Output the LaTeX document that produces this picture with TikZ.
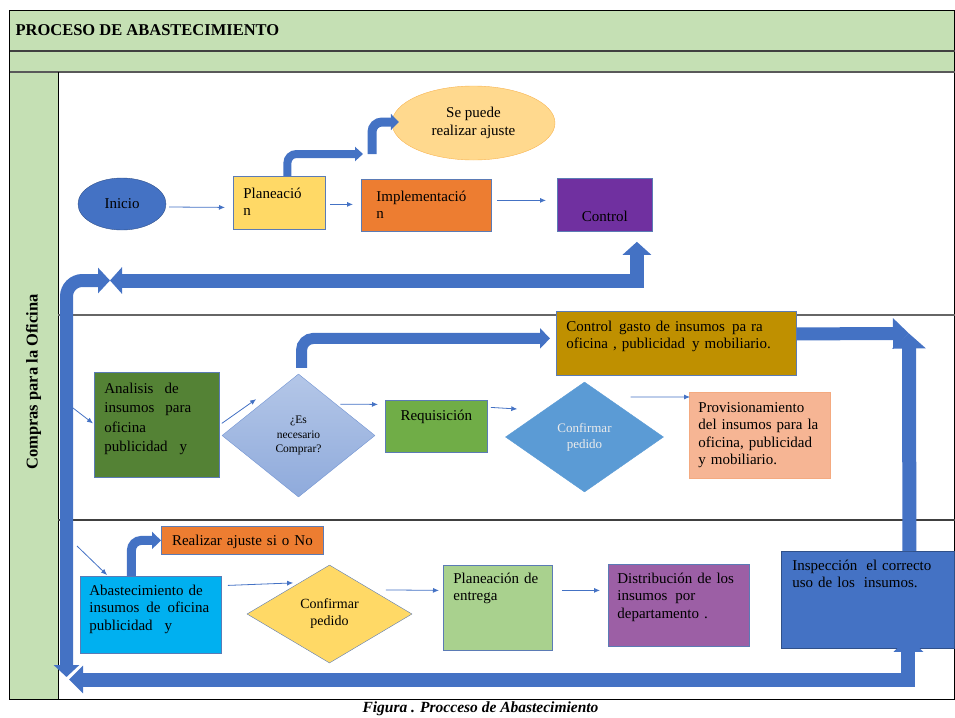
\documentclass[tikz,border=0pt]{standalone}
\usepackage{fontspec}
\setmainfont{Liberation Serif}
\usepackage{xcolor}
\definecolor{band}{HTML}{C5E0B4}
\definecolor{flowblue}{HTML}{4472C4}
\definecolor{boxline}{HTML}{5B7BB5}
\definecolor{yellow}{HTML}{FFD966}
\definecolor{orange}{HTML}{ED7D31}
\definecolor{purple}{HTML}{7030A0}
\definecolor{olive}{HTML}{548235}
\definecolor{green}{HTML}{70AD47}
\definecolor{lightgreen}{HTML}{A9D18E}
\definecolor{gold}{HTML}{BF9000}
\definecolor{sky}{HTML}{5B9BD5}
\definecolor{cyan}{HTML}{00B0F0}
\definecolor{salmon}{HTML}{F6B594}
\definecolor{mauve}{HTML}{9C5FA5}
\definecolor{cream}{HTML}{FFD98E}
\tikzstyle{box} = [draw=boxline, rectangle, anchor=north west, align=left, inner ysep=0pt, inner xsep=10pt, line width=0.8pt]
\tikzstyle{flow} = [draw=flowblue, line width=0.8pt, -{Latex[length=6pt,width=5pt]}]
\tikzstyle{bigflow} = [draw=flowblue, line cap=butt]
\usetikzlibrary{shapes.geometric, arrows.meta}

\begin{document}
\begin{tikzpicture}[x=1pt, y=-1pt, font=\fontsize{15}{17.5}\selectfont]
	\useasboundingbox (0,0) rectangle (955,717);
	%frame
	\fill[band] (9.5,10) rectangle (954.5,72);
	\fill[band] (9.5,72) rectangle (58,699);
	\draw[line width=0.9pt] (9.5,10) rectangle (954.5,699);
	\draw[line width=1.2pt, black!75] (9.5,51) -- (954.5,51);
	\draw[line width=1.2pt, black!65] (9.5,72) -- (954.5,72);
	\draw[line width=0.9pt] (58,72) -- (58,699);
	\draw[line width=1.2pt, black!60] (58,315) -- (954.5,315);
	\draw[line width=1.2pt, black!75] (58,520) -- (954.5,520);
	\node[anchor=base west, font=\fontsize{16.5}{20}\selectfont\bfseries] (title) at (12,36) {PROCESO DE ABASTECIMIENTO};
	\node[rotate=90, font=\fontsize{16.5}{20}\selectfont\bfseries] (lane) at (33.5,382) {Compras para la Oficina};
	\node[anchor=base, font=\fontsize{15.5}{18}\selectfont\bfseries\itshape] (caption) at (480.5,712.5) {Figura . Procceso de Abastecimiento};

	%diagram
	\node[ellipse, draw=flowblue!70!black, fill=flowblue, minimum width=88pt, minimum height=52pt, inner sep=0pt] (inicio) at (122,204) {Inicio};
	\node[box, fill=yellow, text width=72pt, text height=22pt, text depth=31pt] (plan) at (233,176) {Planeació\\n};
	\node[box, fill=orange, inner xsep=15pt, text width=100pt, text height=22pt, text depth=30pt] (impl) at (361,179) {Implementació\\n};
	\node[box, fill=purple, align=center, inner xsep=5pt, text width=85pt, text height=43pt, text depth=10pt] (control) at (557,178) {Control};
	\node[ellipse, draw=orange!40!yellow, fill=cream, align=center, minimum width=163pt, minimum height=74pt, inner sep=0pt] (sepuede) at (473.5,123) {Se puede\\realizar ajuste};

	\node[box, fill=olive, text width=105pt, text height=21pt, text depth=84pt, font=\fontsize{15}{19.5}\selectfont] (analisis) at (94,372) {Analisis\hspace{11pt}de\\insumos\hspace{11pt}para\\oficina\\publicidad\hspace{12pt}y};
	\node[diamond, draw=flowblue!75, top color=flowblue!40, bottom color=flowblue!60, align=center, minimum width=153pt, minimum height=123pt, inner sep=0pt, font=\fontsize{11.5}{14.5}\selectfont] (nec) at (298.5,435.5) {¿Es\\necesario\\Comprar?};
	\node[box, fill=green, align=center, inner xsep=5pt, text width=92pt, text height=20pt, text depth=32pt] (req) at (385,400) {Requisición};
	\node[diamond, draw=sky, fill=sky, text=white!92!black, align=center, minimum width=158pt, minimum height=110pt, inner sep=0pt, font=\fontsize{13}{16}\selectfont] (confb) at (584.5,437) {Confirmar\\pedido};
	\node[box, draw=salmon!80!orange, fill=salmon, inner xsep=9pt, text width=123pt, text height=20pt, text depth=66pt] (provis) at (689,392) {Provisionamiento\\del insumos para la\\oficina, publicidad\\y mobiliario.};
	\node[box, fill=gold, text width=220pt, text height=20pt, text depth=44pt] (ctrlg) at (556,311) {Control\hspace{2pt} gasto de insumos\hspace{2pt} pa ra\\oficina , publicidad\hspace{2pt} y mobiliario.};

	\node[box, fill=orange, align=center, inner xsep=3pt, text width=156pt, text height=19pt, text depth=9pt] (realizar) at (161,526) {Realizar ajuste si o No};
	\node[box, fill=cyan, inner xsep=9pt, text width=123pt, text height=19pt, text depth=58pt] (abast) at (80,576) {Abastecimiento de\\insumos\hspace{2pt} de\hspace{2pt} oficina\\publicidad\hspace{12pt}y};
	\node[diamond, draw=boxline, fill=yellow, align=center, minimum width=165pt, minimum height=98pt, inner sep=0pt, font=\fontsize{14}{17}\selectfont] (confy) at (329.5,614) {Confirmar\\pedido};
	\node[box, fill=lightgreen, text width=89pt, text height=18pt, text depth=67pt] (plan2) at (443,565) {Planeación de\\entrega};
	\node[box, fill=mauve, inner xsep=9pt, text width=123pt, text height=19pt, text depth=63pt] (distrib) at (608,564) {Distribución de los\\insumos\hspace{3pt} por\\departamento .};
	\node[box, draw=flowblue!70!black, fill=flowblue, inner xsep=11pt, text width=151pt, text height=19pt, text depth=78pt] (inspec) at (781,551) {Inspección\hspace{4pt} el correcto\\uso de los\hspace{4pt} insumos.};

	%points
	\coordinate (loopTL) at (110,280.5);
	\coordinate (loopLB) at (66.5,677);
	\coordinate (loopBL) at (69,679.5);
	\coordinate (loopR) at (909,333.5);
	\coordinate (bendA) at (363,154);
	\coordinate (bendB) at (372,154);
	\coordinate (inA) at (73,408);
	\coordinate (inB) at (77,546);

	%thin arrows
	\draw[flow] ([shift={(3,3)}]inicio.east) -- ([shift={(-8,4.5)}]plan.west);
	\draw[flow] ([shift={(4,1.5)}]plan.east) -- ([shift={(-8,-1)}]impl.west);
	\draw[flow] ([shift={(5,-5)}]impl.east) -- ([shift={(-11,-4.5)}]control.west);
	\draw[flow] (inA) -- ([shift={(-1,-1.5)}]analisis.west);
	\draw[flow] ([shift={(2,-1.5)}]analisis.east) -- ([shift={(-4,-5.5)}]nec.north west);
	\draw[flow] ([shift={(3.5,-0.5)}]nec.north east) -- ([shift={(-7,-22)}]req.west);
	\draw[flow] ([shift={(3,-19)}]req.east) -- ([shift={(12,-28)}]confb.west);
	\draw[flow] ([shift={(6.5,-12.5)}]confb.north east) -- ([shift={(1,5)}]provis.north west);
	\draw[flow] (inB) -- ([shift={(27,-1)}]abast.north west);
	\draw[flow] ([shift={(6,-29.5)}]abast.east) -- ([shift={(5,-6.5)}]confy.north west);
	\draw[flow] ([shift={(15,0.5)}]confy.north east) -- ([shift={(-4,-17.5)}]plan2.west);
	\draw[flow] ([shift={(9,-17.5)}]plan2.east) -- ([shift={(-8,-15)}]distrib.west);

	%thick arrows
	\draw[bigflow, line width=8pt, rounded corners=9pt, -{Triangle[length=8pt,width=14pt]}] ([xshift=8pt]plan.north) |- (bendA);
	\draw[bigflow, line width=9pt, rounded corners=10pt, -{Triangle[length=8pt,width=16pt]}] (bendB) |- ([shift={(7,-1)}]sepuede.west);
	\draw[bigflow, line width=14pt, {Triangle[length=12pt,width=26pt]}-{Triangle[length=13pt,width=28pt]}] (loopTL) -| ([shift={(32,10)}]control.south);
	\draw[bigflow, line width=13pt, rounded corners=16pt, {Triangle[length=12pt,width=25pt]}-{Triangle[length=12pt,width=25pt]}] (loopLB) |- (loopTL);
	\draw[bigflow, line width=11pt, rounded corners=12pt, -{Triangle[length=10pt,width=20pt]}] ([shift={(3,-6)}]nec.north) |- ([shift={(-6,-5)}]ctrlg.west);
	\draw[bigflow, line width=13pt, -{Triangle[length=16pt,width=30pt]}] ([yshift=9.5pt]ctrlg.east) -- (loopR);
	\draw[bigflow, line width=14pt, -{Triangle[length=15pt,width=33pt]}] ([xshift=41.5pt]inspec.north) -- (loopR);
	\draw[bigflow, line width=9pt, rounded corners=10pt, -{Triangle[length=9pt,width=17pt]}] ([xshift=-19.5pt]abast.north) |- (realizar.west);
	\draw[bigflow, line width=14pt, {Triangle[length=14pt,width=27pt]}-{Triangle[length=14pt,width=29pt]}] (loopBL) -| ([shift={(40.5,-11)}]inspec.south);
\end{tikzpicture}
\end{document}
